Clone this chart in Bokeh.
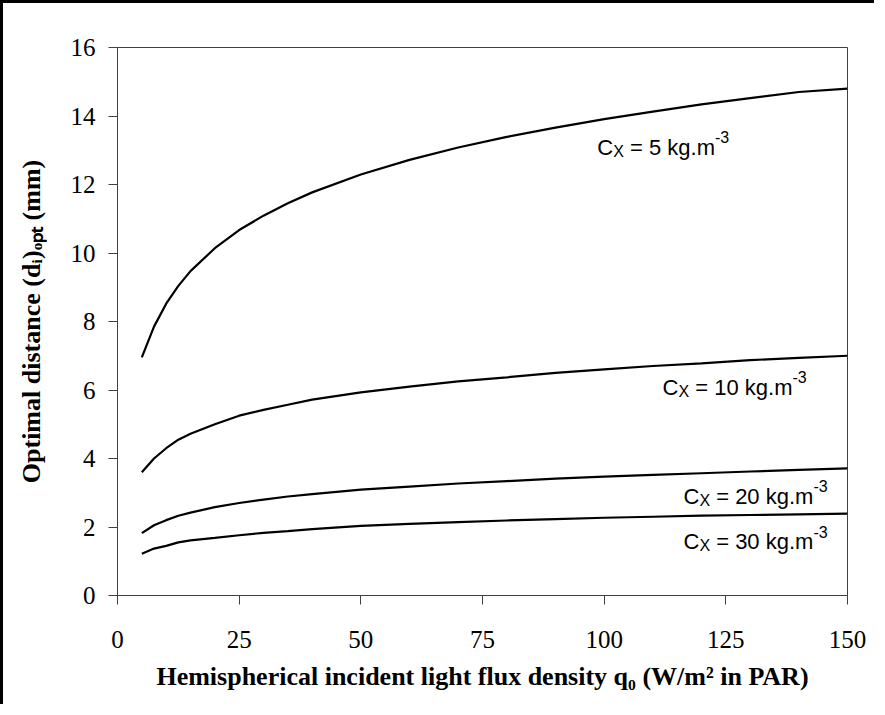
from bokeh.plotting import figure
from bokeh.models import Range1d, FixedTicker, Label
from bokeh.embed import file_html
from bokeh.resources import INLINE

# ---------------- data ----------------
q0 = [5, 7.5, 10, 12.5, 15, 20, 25, 30, 35, 40, 50, 60, 70, 80, 90, 100, 110, 120, 130, 140, 150]
d_cx5 = [6.95, 7.85, 8.52, 9.04, 9.47, 10.14, 10.67, 11.09, 11.45, 11.77, 12.29, 12.72, 13.08,
         13.39, 13.66, 13.91, 14.13, 14.34, 14.52, 14.70, 14.80]
d_cx10 = [3.60, 4.00, 4.30, 4.55, 4.72, 5.00, 5.25, 5.42, 5.57, 5.72, 5.93, 6.10, 6.25,
          6.37, 6.50, 6.60, 6.70, 6.78, 6.87, 6.94, 7.00]
d_cx20 = [1.82, 2.05, 2.20, 2.33, 2.42, 2.58, 2.70, 2.80, 2.89, 2.96, 3.09, 3.18, 3.27,
          3.34, 3.41, 3.47, 3.52, 3.57, 3.62, 3.67, 3.71]
d_cx30 = [1.22, 1.37, 1.45, 1.55, 1.61, 1.68, 1.76, 1.83, 1.88, 1.94, 2.03, 2.09, 2.14,
          2.19, 2.23, 2.27, 2.30, 2.33, 2.35, 2.37, 2.39]
series = [d_cx5, d_cx10, d_cx20, d_cx30]

x_ticks = [0, 25, 50, 75, 100, 125, 150]
y_ticks = [0, 2, 4, 6, 8, 10, 12, 14, 16]

label_values = ["5", "10", "20", "30"]
label_x = [98.6, 112.0, 116.3, 116.3]
label_y = [12.85, 5.84, 2.66, 1.34]

# ---------------- figure ----------------
p = figure(width=874, height=704, output_backend="svg", toolbar_location=None,
           x_range=Range1d(0, 150), y_range=Range1d(0, 16),
           min_border_left=114, min_border_top=44, min_border_right=30, min_border_bottom=112)
p.styles = {"border-left": "3px solid black", "border-top": "3px solid black"}
p.background_fill_color = "white"
p.border_fill_color = "white"
p.outline_line_color = "#404040"
p.outline_line_width = 1
p.grid.visible = False

for ax, ticks in ((p.xaxis, x_ticks), (p.yaxis, y_ticks)):
    ax.ticker = FixedTicker(ticks=ticks)
    ax.minor_tick_line_color = None
    ax.major_tick_out = 9
    ax.major_tick_in = 0
    ax.axis_line_color = "#404040"
    ax.major_tick_line_color = "#404040"
    ax.major_label_text_font = "Liberation Serif"
    ax.major_label_text_font_size = "25px"
    ax.major_label_text_color = "black"
    ax.axis_label_text_font = "Liberation Serif"
    ax.axis_label_text_font_style = "bold"
    ax.axis_label_text_font_size = "26px"
    ax.axis_label_text_color = "black"

p.xaxis.major_label_standoff = 26
p.yaxis.major_label_standoff = 13
p.xaxis.axis_label = "Hemispherical incident light flux density q\u2080 (W/m\u00b2 in PAR)"
p.yaxis.axis_label = "Optimal distance (d\u1d62)\u2092\u209a\u209c (mm)"
p.xaxis.axis_label_standoff = 11
p.yaxis.axis_label_standoff = 22

for ys in series:
    p.line(q0, ys, line_color="black", line_width=2.2)

# ---------------- labels  C_X = n kg.m^-3 ----------------
FS = 22
SS = 16
LIFT = 8
W = {" ": 0.278, "=": 0.584, "k": 0.5, "g": 0.556, ".": 0.278, "m": 0.833, "C": 0.722, "X": 0.667}
for d in "0123456789":
    W[d] = 0.556

def tw(s, size):
    return sum(W[c] for c in s) * size

for val, lx, ly in zip(label_values, label_x, label_y):
    main = "= %s kg.m" % val
    x_main = tw("C", FS) + tw("X", SS) + tw(" ", FS)
    parts = [("C", FS, 0, 0),
             ("X", SS, tw("C", FS), -4),
             (main, FS, x_main, 0),
             ("-3", SS, x_main + tw(main, FS), 10)]
    for txt, size, xo, yo in parts:
        p.add_layout(Label(x=lx, y=ly, x_offset=xo, y_offset=yo + LIFT, text=txt,
                           text_font="Liberation Sans", text_font_size="%dpx" % size,
                           text_color="black", text_baseline="alphabetic", text_align="left"))

open("out.html", "w").write(file_html(p, INLINE))
